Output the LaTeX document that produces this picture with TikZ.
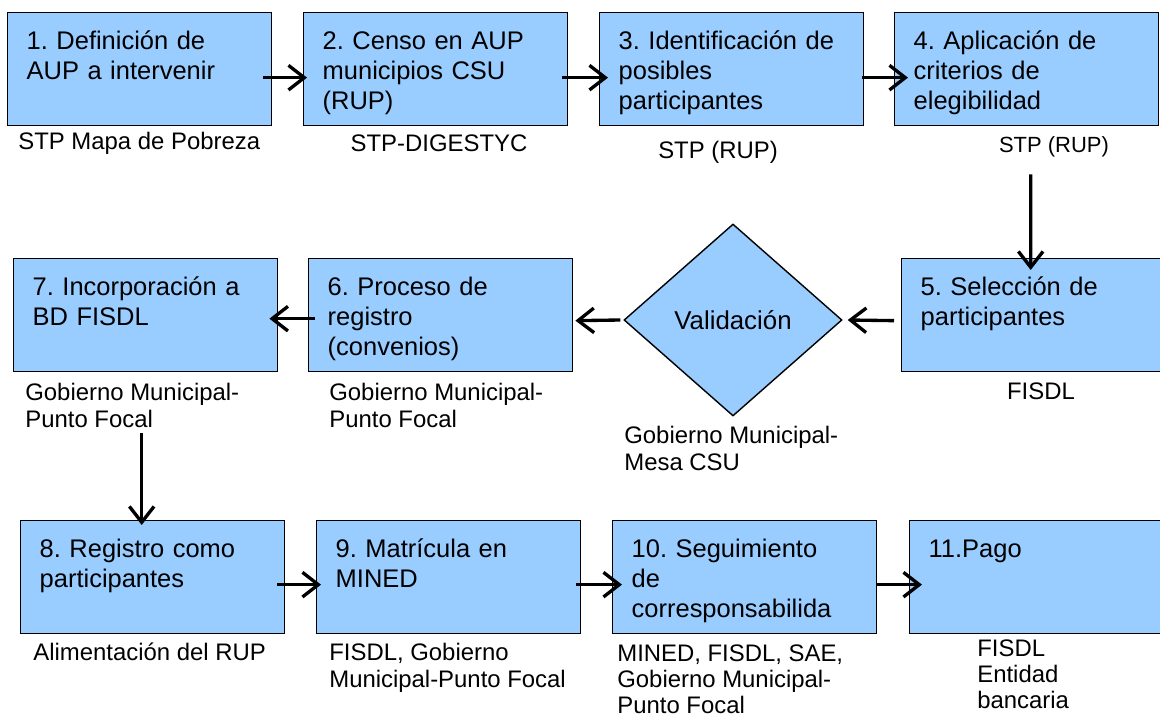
\documentclass[tikz,border=0pt]{standalone}
\usepackage{fontspec}
\setmainfont{Liberation Sans}
\usepackage{tikz}
\usetikzlibrary{arrows.meta,shapes.geometric}
\definecolor{boxblue}{RGB}{153,204,255}
\frenchspacing

\begin{document}
\begin{tikzpicture}[
  paso/.style={draw=black, line width=0.8pt, fill=boxblue, anchor=north west,
    text width=4.52cm, inner xsep=0.38cm, inner ysep=0.32cm, align=left,
    text height=11.9pt, text depth=1.2cm, font=\fontsize{14.5}{17}\selectfont},
  quien/.style={inner sep=0pt, align=left, font=\fontsize{13.6}{15}\selectfont},
  flujo/.style={line width=1.9pt, -{Straight Barb[length=9pt,width=14pt]}}
]
\useasboundingbox (0,0) rectangle (23.2,14.34);

\node (p1) at (0.14,14.10) [paso] {1. Definición de\\AUP a intervenir};
\node (p2) at (6.06,14.10) [paso] {2. Censo en AUP\\municipios CSU\\(RUP)};
\node (p3) at (11.98,14.10) [paso] {3. Identificación de\\posibles\\participantes};
\node (p4) at (17.88,14.10) [paso] {4. Aplicación de\\criterios de\\elegibilidad};
\node (p5) at (18.02,9.18) [paso] {5. Selección de\\participantes};
\node (val) at (14.66,7.94) [diamond, draw=black, line width=0.8pt, fill=boxblue,
  minimum width=4.36cm, minimum height=3.84cm, inner sep=0pt,
  font=\fontsize{14.7}{17}\selectfont] {Validación};
\node (p6) at (6.16,9.18) [paso] {6. Proceso de\\registro\\(convenios)};
\node (p7) at (0.26,9.18) [paso] {7. Incorporación a\\BD FISDL};
\node (p8) at (0.40,3.94) [paso] {8. Registro como\\participantes};
\node (p9) at (6.32,3.94) [paso] {9. Matrícula en\\MINED};
\node (p10) at (12.24,3.94) [paso] {10. Seguimiento\\de\\corresponsabilida};
\node (p11) at (18.18,3.94) [paso] {11.Pago};

\node (r1) at (0.36,11.48) [quien, anchor=west] {STP Mapa de Pobreza};
\node (r2) at (8.78,11.48) [quien] {STP-DIGESTYC};
\node (r3) at (14.36,11.30) [quien] {STP (RUP)};
\node (r4) at (21.08,11.40) [quien, font=\fontsize{12.5}{14}\selectfont] {STP (RUP)};
\node (r5) at (20.82,6.52) [quien] {FISDL};
\node (rv) at (12.48,5.82) [quien, anchor=north west] {Gobierno Municipal-\\Mesa CSU};
\node (r6) at (6.58,6.68) [quien, anchor=north west] {Gobierno Municipal-\\Punto Focal};
\node (r7) at (0.50,6.68) [quien, anchor=north west] {Gobierno Municipal-\\Punto Focal};
\node (r8) at (0.66,1.30) [quien, anchor=west] {Alimentación del RUP};
\node (r9) at (6.58,1.48) [quien, anchor=north west] {FISDL, Gobierno\\Municipal-Punto Focal};
\node (r10) at (12.34,1.46) [quien, anchor=north west] {MINED, FISDL, SAE,\\Gobierno Municipal-\\Punto Focal};
\node (r11) at (19.54,1.56) [quien, anchor=north west] {FISDL\\Entidad\\bancaria};

\draw[flujo] ([xshift=-0.18cm,yshift=-0.17cm]p1.east) -- ([xshift=0.08cm,yshift=-0.17cm]p2.west);
\draw[flujo] ([xshift=-0.12cm,yshift=-0.17cm]p2.east) -- ([xshift=0.18cm,yshift=-0.17cm]p3.west);
\draw[flujo] ([xshift=-0.04cm,yshift=-0.17cm]p3.east) -- ([xshift=0.28cm,yshift=-0.17cm]p4.west);
\draw[flujo] ([xshift=0.08cm,yshift=-0.96cm]p4.south) -- ([xshift=-0.06cm,yshift=-0.24cm]p5.north);
\draw[flujo] ([xshift=-0.14cm,yshift=-0.11cm]p5.west) -- ([xshift=0.10cm]val.east);
\draw[flujo] ([xshift=-0.06cm]val.west) -- ([xshift=0.04cm,yshift=-0.11cm]p6.east);
\draw[flujo] ([xshift=0.14cm,yshift=-0.07cm]p6.west) -- ([xshift=-0.18cm,yshift=-0.07cm]p7.east);
\draw[flujo] ([xshift=-0.08cm,yshift=-1.22cm]p7.south) -- ([xshift=-0.22cm,yshift=-0.10cm]p8.north);
\draw[flujo] ([xshift=-0.16cm,yshift=-0.15cm]p8.east) -- ([xshift=0.10cm,yshift=-0.15cm]p9.west);
\draw[flujo] ([xshift=-0.10cm,yshift=-0.15cm]p9.east) -- ([xshift=0.20cm,yshift=-0.15cm]p10.west);
\draw[flujo] ([yshift=-0.15cm]p10.east) -- ([xshift=0.26cm,yshift=-0.15cm]p11.west);
\end{tikzpicture}
\end{document}
